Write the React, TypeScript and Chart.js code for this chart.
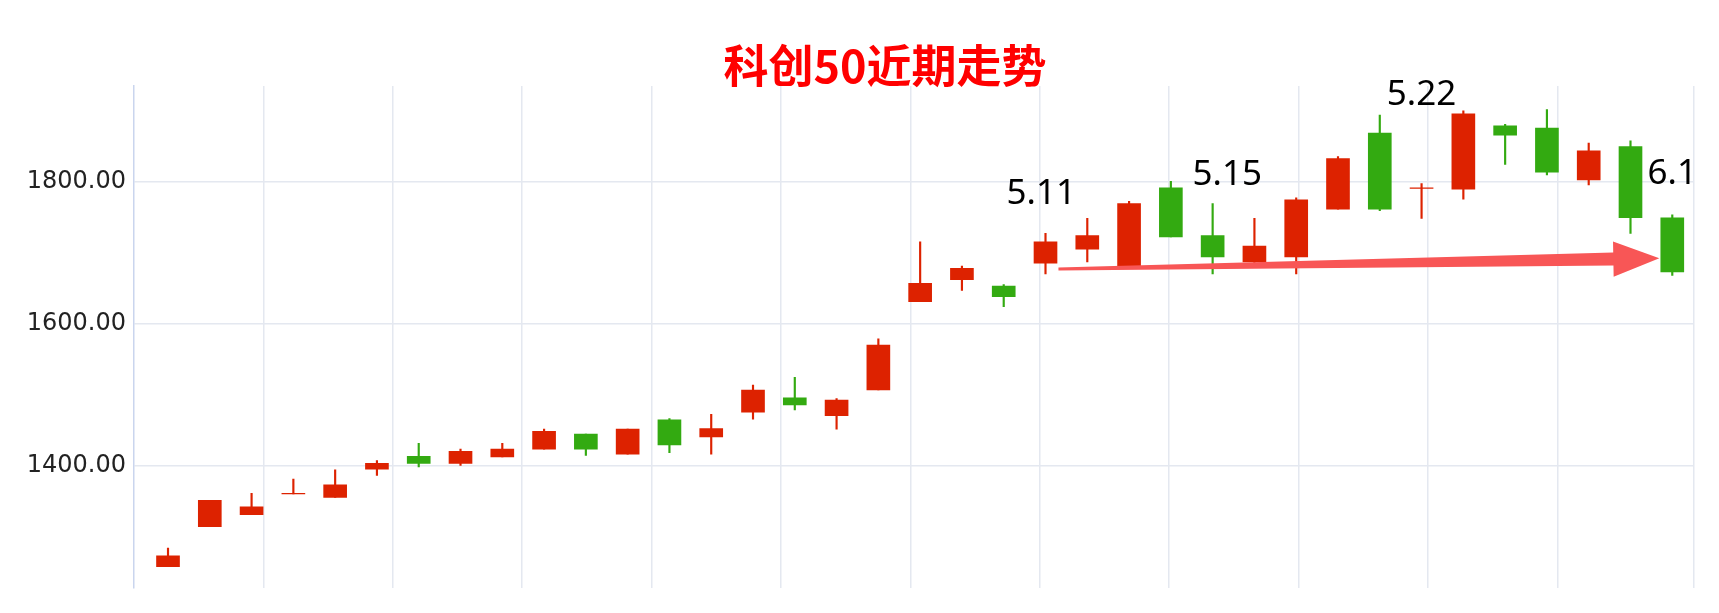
import { useEffect, useRef } from "react";
import Chart from "chart.js/auto";

// trading days (x categories), oldest first
const dates = [
  "4.7", "4.8", "4.9", "4.10", "4.13", "4.14", "4.15", "4.16", "4.17", "4.20",
  "4.21", "4.22", "4.23", "4.24", "4.27", "4.28", "4.29", "4.30", "5.6", "5.7",
  "5.8", "5.11", "5.12", "5.13", "5.14", "5.15", "5.18", "5.19", "5.20", "5.21",
  "5.22", "5.25", "5.26", "5.27", "5.28", "5.29", "6.1",
];
const opens = [
  1259, 1315, 1332, 1361, 1356, 1396, 1414, 1404, 1413, 1424,
  1445, 1417, 1465, 1441, 1476, 1496, 1471, 1507, 1631, 1662,
  1653, 1685, 1705, 1681, 1791, 1724, 1687, 1694, 1761, 1868,
  1790, 1789, 1878, 1875, 1802, 1849, 1749,
];
const closes = [
  1274, 1352, 1343, 1362, 1374, 1404, 1404, 1421, 1424, 1449,
  1424, 1452, 1430, 1453, 1507, 1486, 1493, 1570, 1657, 1678,
  1638, 1715, 1724, 1769, 1722, 1694, 1709, 1774, 1832, 1761,
  1791, 1895, 1865, 1813, 1843, 1749, 1673,
];
const highs = [
  1285, 1352, 1362, 1382, 1395, 1408, 1432, 1424, 1432, 1452,
  1445, 1452, 1467, 1473, 1514, 1525, 1495, 1579, 1715, 1681,
  1655, 1727, 1748, 1772, 1800, 1769, 1748, 1777, 1835, 1893,
  1797, 1899, 1880, 1901, 1854, 1857, 1753,
];
const lows = [
  1259, 1315, 1332, 1361, 1356, 1387, 1399, 1401, 1413, 1424,
  1415, 1417, 1419, 1417, 1466, 1479, 1452, 1507, 1631, 1647,
  1624, 1670, 1687, 1681, 1722, 1670, 1685, 1670, 1761, 1759,
  1748, 1775, 1824, 1809, 1795, 1727, 1668,
];
const yTicks = [1400, 1600, 1800];

// date markers written above the candles, and the price level of their baseline
const noteDates = ["5.11", "5.15", "5.22", "6.1"];
const noteLevels = [1768, 1795, 1908, 1796];

// trend arrow: candle index and price at tail and tip
const trendX = [21.31, 35.69];
const trendY = [1677, 1692];

const TITLE = "科创50近期走势";
const RED = "#dd2200";
const GREEN = "#33aa11";
const GRID = "#e4e8f0";
const AXIS = "#cad5ee";

const noteShift = [-0.1, 0.35, 0, 0];

const headline = {
  id: "headline",
  afterDraw(chart: any) {
    const { ctx } = chart;
    ctx.save();
    ctx.font = "bold 45px 'Noto Sans CJK SC', sans-serif";
    ctx.fillStyle = "#ff0000";
    ctx.textAlign = "center";
    ctx.textBaseline = "middle";
    ctx.fillText(TITLE, 885, 66);
    ctx.restore();
  },
};

const notes = {
  id: "notes",
  afterDatasetsDraw(chart: any) {
    const { ctx, scales } = chart;
    ctx.save();
    ctx.font = "35px 'Noto Sans', sans-serif";
    ctx.fillStyle = "#000";
    ctx.textAlign = "center";
    ctx.textBaseline = "alphabetic";
    noteDates.forEach((d, i) => {
      const x = scales.x.getPixelForValue(dates.indexOf(d) + noteShift[i]);
      const y = scales.y.getPixelForValue(noteLevels[i]);
      ctx.fillText(d, x, y);
    });
    ctx.restore();
  },
};

const trendArrow = {
  id: "trendArrow",
  afterDatasetsDraw(chart: any) {
    const { ctx, scales } = chart;
    const x0 = scales.x.getPixelForValue(trendX[0]);
    const y0 = scales.y.getPixelForValue(trendY[0]);
    const x1 = scales.x.getPixelForValue(trendX[1]);
    const y1 = scales.y.getPixelForValue(trendY[1]);
    const len = Math.hypot(x1 - x0, y1 - y0);
    const ux = (x1 - x0) / len;
    const uy = (y1 - y0) / len;
    const nx = -uy;
    const ny = ux;
    const headLen = 46;
    const headHalf = 17.7;
    const tailHalf = 1.5;
    const neckHalf = 6.5;
    const bx = x1 - ux * headLen;
    const by = y1 - uy * headLen;
    ctx.save();
    ctx.fillStyle = "#f85656";
    ctx.beginPath();
    ctx.moveTo(x0 + nx * tailHalf, y0 + ny * tailHalf);
    ctx.lineTo(bx + nx * neckHalf, by + ny * neckHalf);
    ctx.lineTo(bx + nx * headHalf, by + ny * headHalf);
    ctx.lineTo(x1, y1);
    ctx.lineTo(bx - nx * headHalf, by - ny * headHalf);
    ctx.lineTo(bx - nx * neckHalf, by - ny * neckHalf);
    ctx.lineTo(x0 - nx * tailHalf, y0 - ny * tailHalf);
    ctx.closePath();
    ctx.fill();
    ctx.restore();
  },
};

export default function App() {
  const canvasRef = useRef<HTMLCanvasElement>(null);

  useEffect(() => {
    const colors = dates.map((_, i) => (closes[i] >= opens[i] ? RED : GREEN));

    const chart = new Chart(canvasRef.current!, {
      type: "bar",
      data: {
        labels: dates,
        datasets: [
          {
            label: "body",
            data: dates.map((_, i) => ({ x: i, y: [opens[i], closes[i]] })) as any,
            backgroundColor: colors,
            borderWidth: 0,
            barThickness: 23,
            grouped: false,
          },
          {
            label: "wick",
            data: dates.map((_, i) => ({ x: i, y: [lows[i], highs[i]] })) as any,
            backgroundColor: colors,
            borderWidth: 0,
            barThickness: 1.5,
            grouped: false,
          },
        ],
      },
      options: {
        animation: false,
        responsive: true,
        maintainAspectRatio: false,
        layout: { padding: { top: 86, right: 25.7, bottom: 25.4, left: 0 } },
        plugins: {
          legend: { display: false },
          tooltip: { enabled: false },
          title: { display: false },
        },
        scales: {
          x: {
            type: "linear",
            display: false,
            offset: false,
            grid: { offset: false },
            min: -0.814,
            max: 36.503,
          },
          // vertical grid columns of the original, independent of the candles
          xg: {
            type: "linear",
            position: "bottom",
            offset: false,
            min: 0,
            max: 12.05,
            afterBuildTicks: (axis: any) => {
              const t = [];
              for (let i = 0; i < 12; i++) t.push({ value: i });
              t.push({ value: 12.05 });
              axis.ticks = t;
            },
            afterFit: (axis: any) => {
              axis.height = 0;
            },
            ticks: { display: false },
            border: { display: false },
            grid: {
              offset: false,
              drawTicks: false,
              lineWidth: 1.5,
              color: (c: any) => (c.index === 0 ? "rgba(0,0,0,0)" : GRID),
            },
          },
          y: {
            min: 1229.5,
            max: 1934,
            afterBuildTicks: (axis: any) => {
              axis.ticks = yTicks.map((v) => ({ value: v }));
            },
            afterFit: (axis: any) => {
              axis.width = 134;
            },
            ticks: {
              padding: 8,
              color: "#222",
              font: { family: "'DejaVu Sans', sans-serif", size: 24 },
              callback: (v: any) => Number(v).toFixed(2),
            },
            border: { color: AXIS, width: 1.5 },
            grid: { color: GRID, lineWidth: 1.5, drawTicks: false },
          },
        },
      } as any,
      plugins: [headline, notes, trendArrow],
    });

    return () => chart.destroy();
  }, []);

  return (
    <div
      style={{
        position: "absolute",
        left: 0,
        top: 0,
        width: 1719,
        height: 613,
        background: "#fff",
      }}
    >
      <canvas ref={canvasRef}></canvas>
    </div>
  );
}
